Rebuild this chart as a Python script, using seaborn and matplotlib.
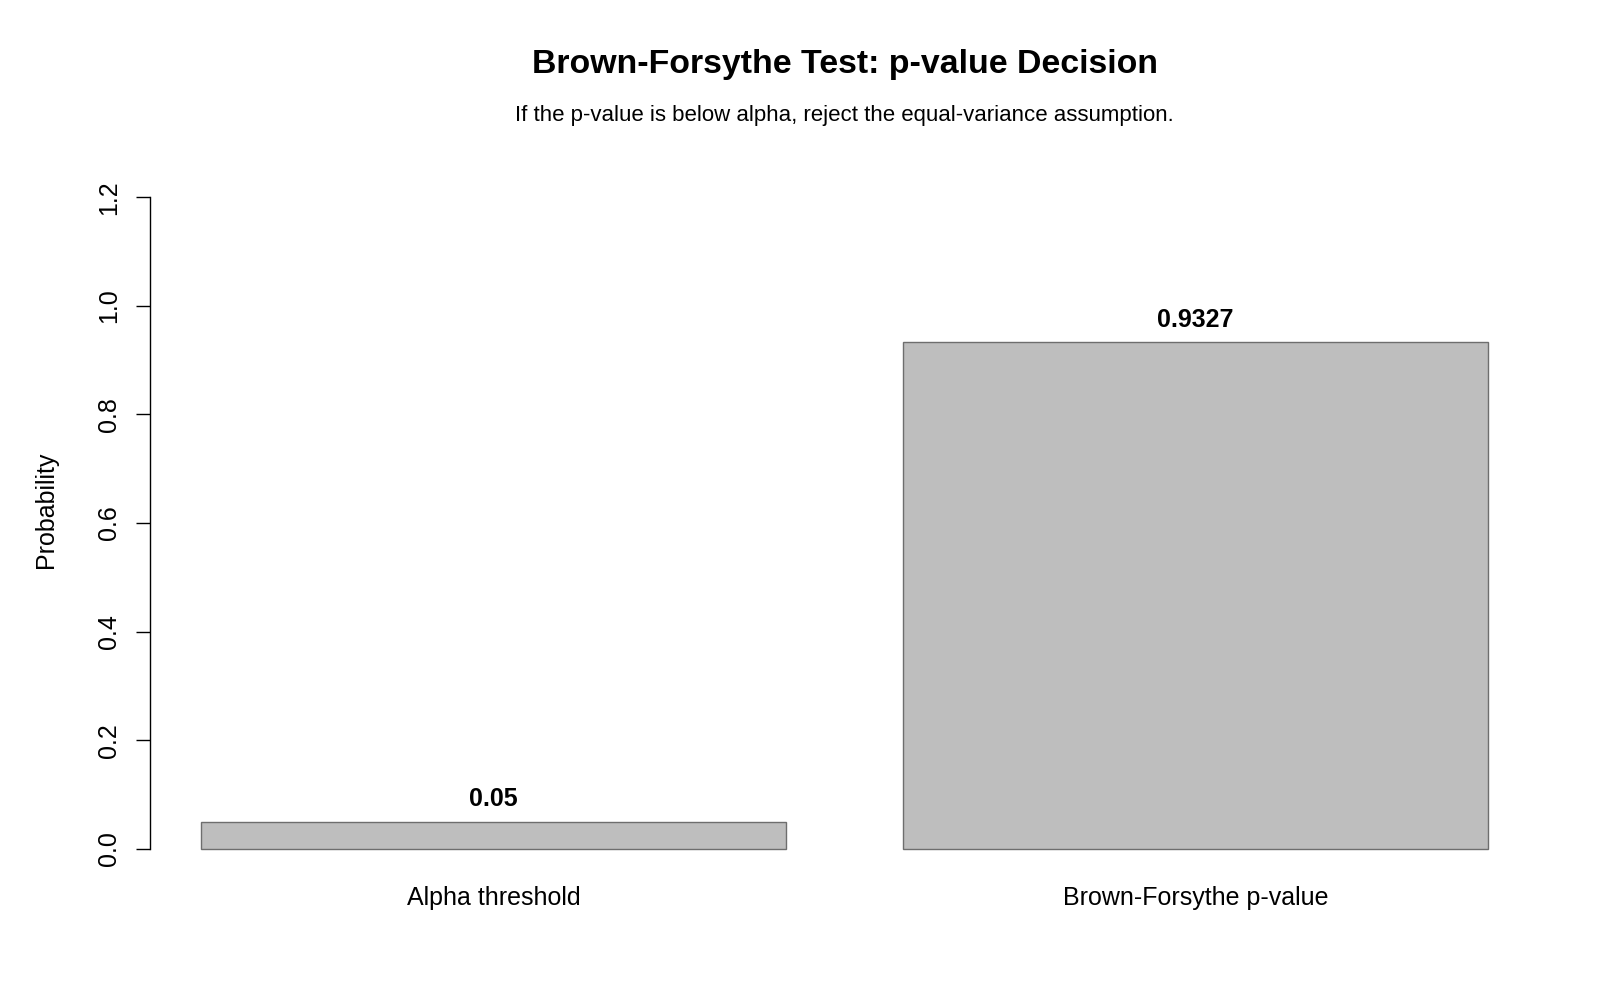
import matplotlib
matplotlib.use("Agg")
import matplotlib.pyplot as plt
import seaborn as sns
import pandas as pd

categories = ["Alpha threshold", "Brown-Forsythe p-value"]
values = [0.05, 0.9327]
y_ticks = [0.0, 0.2, 0.4, 0.6, 0.8, 1.0, 1.2]
title = "Brown-Forsythe Test: p-value Decision"
subtitle = "If the p-value is below alpha, reject the equal-variance assumption."

sns.set_theme(style="white")
plt.rcParams["font.family"] = ["Liberation Sans", "DejaVu Sans"]
plt.rcParams["text.color"] = "black"

df = pd.DataFrame({"category": categories, "value": values})

fig = plt.figure(figsize=(16, 10), dpi=100)
ax = fig.add_axes([150 / 1600, 1 - 876 / 1000, (1539 - 150) / 1600, (876 - 143) / 1000])

sns.barplot(data=df, x="category", y="value", ax=ax, color="#BEBEBE",
            saturation=1, width=1 / 1.2, edgecolor="#6E6E6E", linewidth=1.0)

ax.set_xlim(-0.49, 1.49)
ax.set_ylim(-0.05, 1.30)

for i, v in enumerate(values):
    ax.text(i, v + 0.042, f"{v:g}", ha="center", va="center",
            fontsize=18, fontweight="bold", color="black")

for s in ["top", "right", "bottom"]:
    ax.spines[s].set_visible(False)
ax.spines["left"].set_bounds(0, 1.2)
ax.spines["left"].set_color("black")
ax.spines["left"].set_linewidth(1.0)

ax.set_yticks(y_ticks)
ax.set_yticklabels([f"{t:.1f}" for t in y_ticks], rotation=90, va="center", fontsize=18)
ax.tick_params(axis="y", left=True, length=10, width=1.0, color="black", pad=11, labelcolor="black")
ax.tick_params(axis="x", length=0, pad=7, labelsize=18, labelcolor="black")

ax.set_xlabel("")
ax.set_ylabel("Probability", fontsize=18, va="center", color="black")
ax.yaxis.set_label_coords(-0.0749, 0.5)

cx = (150 + 1539) / 2 / 1600
fig.text(cx, 1 - 64 / 1000, title, ha="center", va="center", fontsize=24.4,
         fontweight="bold", color="black")
fig.text(cx, 1 - 116 / 1000, subtitle, ha="center", va="center", fontsize=16, color="black")

fig.savefig("out.png", dpi=100, facecolor="white")
